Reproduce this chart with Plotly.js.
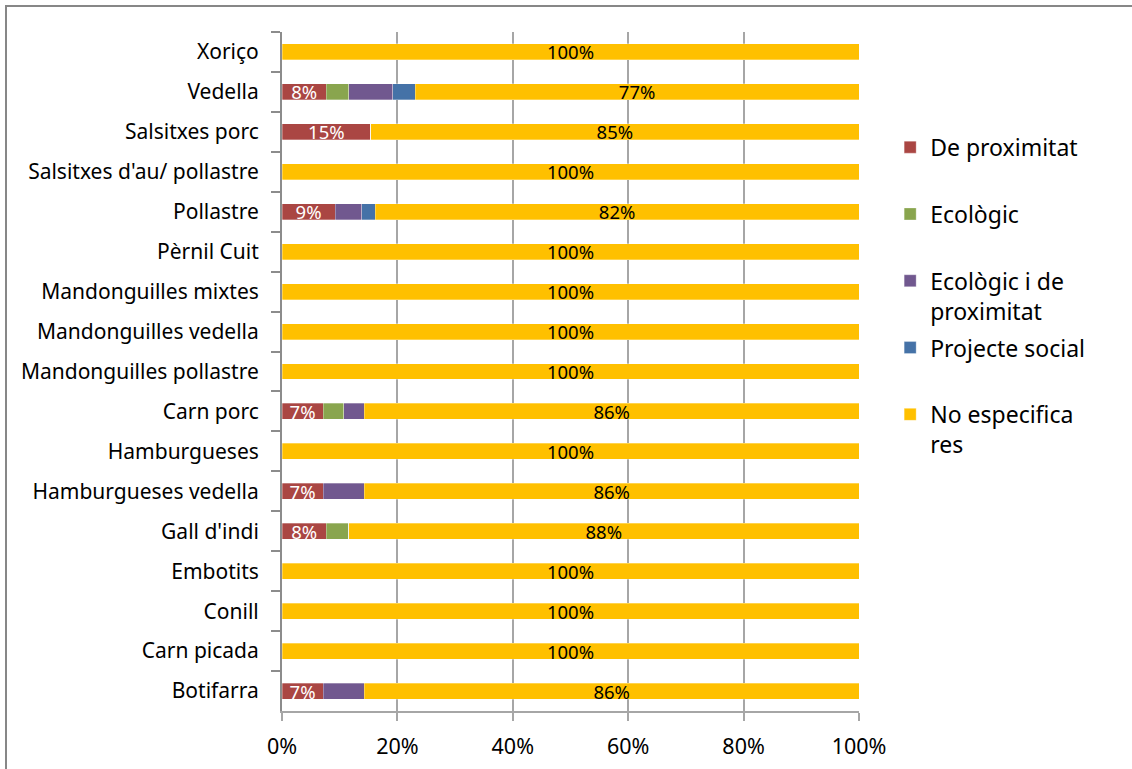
<!DOCTYPE html>
<html>
<head>
<meta charset="utf-8">
<script src="https://cdn.plot.ly/plotly-3.0.1.min.js"></script>
<style>
  html, body { margin: 0; padding: 0; background: #fff; }
  #wrap { position: relative; width: 1132px; height: 769px; overflow: hidden; }
  #chart { position: absolute; left: 0; top: 0; width: 1132px; height: 769px; }
  #frame { position: absolute; left: 5px; top: 5px; width: 1200px; height: 800px;
           border-left: 2px solid #878787; border-top: 2px solid #878787; pointer-events: none; }
</style>
</head>
<body>
<div id="wrap"><div id="chart"></div><div id="frame"></div></div>
<script>
const categories = ['Xoriço','Vedella','Salsitxes porc',"Salsitxes d'au/ pollastre",'Pollastre','Pèrnil Cuit',
  'Mandonguilles mixtes','Mandonguilles vedella','Mandonguilles pollastre','Carn porc','Hamburgueses',
  'Hamburgueses vedella',"Gall d'indi",'Embotits','Conill','Carn picada','Botifarra'];

const deProximitat   = [0, 7.69, 15.38, 0, 9,   0, 0, 0, 0, 7.14, 0, 7.14, 7.69, 0, 0, 0, 7.14];
const ecologic       = [0, 3.85, 0,     0, 0,   0, 0, 0, 0, 3.57, 0, 0,    3.85, 0, 0, 0, 0];
const ecologicProx   = [0, 7.69, 0,     0, 4.5, 0, 0, 0, 0, 3.57, 0, 7.14, 0,    0, 0, 0, 7.14];
const projecteSocial = [0, 3.85, 0,     0, 2.3, 0, 0, 0, 0, 0,    0, 0,    0,    0, 0, 0, 0];
const noEspecifica   = [100, 76.92, 84.62, 100, 82, 100, 100, 100, 100, 85.71, 100, 85.71, 88.46, 100, 100, 100, 85.71];

const xTickValues = [0, 20, 40, 60, 80, 100];
const xTickLabels = ['0%', '20%', '40%', '60%', '80%', '100%'];

const legendNames = ['De proximitat<br>&nbsp;', 'Ecològic<br>&nbsp;', 'Ecològic i de<br>proximitat', 'Projecte social<br>&nbsp;', 'No especifica<br>res'];
const colors = ['#AA4643', '#89A54E', '#71588F', '#4572A7', '#FFC000'];
const showLabels = [true, false, false, false, true];
const labelColors = ['#ffffff', '#000000', '#000000', '#000000', '#000000'];
const allSeries = [deProximitat, ecologic, ecologicProx, projecteSocial, noEspecifica];

const font = 'Noto Sans, DejaVu Sans, sans-serif';

const traces = allSeries.map((vals, i) => ({
  type: 'bar',
  orientation: 'h',
  y: categories,
  x: vals,
  name: legendNames[i],
  legendgroup: 'g' + i,
  marker: { color: colors[i], line: { color: 'rgba(255,255,255,0.5)', width: 0.6 } },
  text: showLabels[i] ? vals.map(v => v > 0 ? Math.round(v) + '%' : '') : vals.map(() => ''),
  textposition: 'inside',
  insidetextanchor: 'middle',
  constraintext: 'none',
  textangle: 0,
  insidetextfont: { family: font, size: 18.5, color: labelColors[i] },
  hoverinfo: 'skip'
}));

const layout = {
  width: 1132, height: 769,
  margin: { l: 282, r: 273, t: 32, b: 58 },
  paper_bgcolor: '#ffffff', plot_bgcolor: '#ffffff',
  barmode: 'stack',
  barnorm: 'percent',
  bargap: 0.6,
  showlegend: true,
  legend: {
    x: 1.054, xanchor: 'left', y: 0.862, yanchor: 'top',
    font: { family: font, size: 23, color: '#000' },
    tracegroupgap: 4, valign: 'top', traceorder: 'grouped',
    itemclick: false
  },
  xaxis: {
    range: [0, 100], tickmode: 'array', tickvals: xTickValues, ticktext: xTickLabels,
    showgrid: true, gridcolor: '#a6a6a6', gridwidth: 2,
    zeroline: false, showline: true, linecolor: '#a6a6a6', linewidth: 2,
    ticks: 'outside', ticklen: 8, tickcolor: '#a6a6a6', tickwidth: 2,
    tickfont: { family: font, size: 21.5, color: '#000' }, ticklabelstandoff: 7,
    fixedrange: true
  },
  yaxis: {
    type: 'category', autorange: 'reversed',
    showline: true, linecolor: '#8c8c8c', linewidth: 2,
    ticks: 'outside', tickson: 'boundaries', ticklen: 9, tickcolor: '#8c8c8c', tickwidth: 2,
    tickfont: { family: font, size: 21, color: '#000' }, ticklabelstandoff: 17,
    showgrid: false, zeroline: false, fixedrange: true
  }
};

Plotly.newPlot('chart', traces, layout, { displayModeBar: false, staticPlot: true });
</script>
</body>
</html>
